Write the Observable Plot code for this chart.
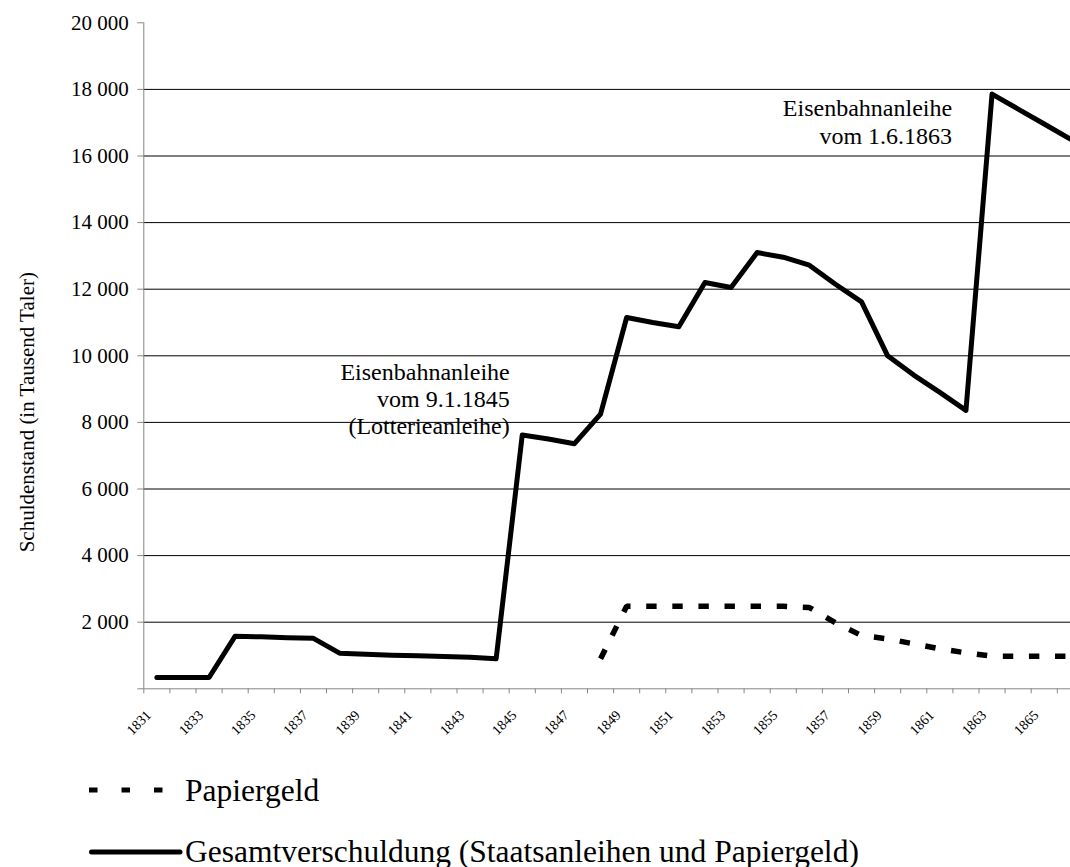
<!DOCTYPE html>
<html>
<head>
<meta charset="utf-8">
<script src="https://cdn.jsdelivr.net/npm/d3@7"></script>
<script src="https://cdn.jsdelivr.net/npm/@observablehq/plot@0.6"></script>
<style>
html, body { margin: 0; padding: 0; background: #fff; overflow: hidden; }
#chart svg { display: block; }
.legend { position: relative; width: 1070px; height: 107px; font-family: "Liberation Serif", serif; font-size: 31.5px; color: #000; }
.legend .sw { position: absolute; left: 86px; width: 100px; height: 10px; line-height: 0; }
.legend .sw svg { display: block; }
.legend .lb { position: absolute; left: 185px; line-height: 31.5px; white-space: nowrap; }
</style>
</head>
<body>
<div id="chart"></div>
<div class="legend" id="legend">
  <div class="sw" style="top:25px"><svg width="100" height="10"><line x1="3" x2="78" y1="5" y2="5" stroke="#000" stroke-width="5" stroke-dasharray="8.5 24"/></svg></div>
  <div class="lb" style="top:15.3px">Papiergeld</div>
  <div class="sw" style="top:87px"><svg width="100" height="10"><line x1="5.5" x2="94" y1="5" y2="5" stroke="#000" stroke-width="5" stroke-linecap="round"/></svg></div>
  <div class="lb" style="top:75.6px">Gesamtverschuldung (Staatsanleihen und Papiergeld)</div>
</div>
<script>
// ---- data ----
const years = [1831, 1832, 1833, 1834, 1835, 1836, 1837, 1838, 1839, 1840, 1841, 1842,
  1843, 1844, 1845, 1846, 1847, 1848, 1849, 1850, 1851, 1852, 1853, 1854,
  1855, 1856, 1857, 1858, 1859, 1860, 1861, 1862, 1863, 1864, 1865, 1866];
const gesamt = [340, 340, 340, 1580, 1560, 1535, 1515, 1070, 1040, 1010, 990, 970,
  945, 900, 7620, 7500, 7360, 8250, 11150, 11000, 10870, 12200, 12050, 13100,
  12960, 12720, 12150, 11620, 10000, 9420, 8900, 8360, 17860, 17410, 16960, 16510];
const papierYears = [1848, 1849, 1850, 1851, 1852, 1853, 1854, 1855, 1856, 1857,
  1858, 1859, 1860, 1861, 1862, 1863, 1864, 1865, 1866];
const papier = [900, 2480, 2480, 2480, 2480, 2480, 2480, 2480, 2440, 1980,
  1600, 1500, 1350, 1200, 1080, 980, 980, 980, 980];
const yTicks = [0, 2000, 4000, 6000, 8000, 10000, 12000, 14000, 16000, 18000, 20000];
const gridTicks = [2000, 4000, 6000, 8000, 10000, 12000, 14000, 16000, 18000];
const labelYears = [1831, 1833, 1835, 1837, 1839, 1841, 1843, 1845, 1847, 1849,
  1851, 1853, 1855, 1857, 1859, 1861, 1863, 1865];
const annotationYears = [1844.52, 1861.47];
const annotationValues = [7640, 16370];
const annotationLabels = ["Eisenbahnanleihe\nvom 9.1.1845\n(Lotterieanleihe)", "Eisenbahnanleihe\nvom 1.6.1863"];
const yTitle = "Schuldenstand (in Tausend Taler)";

// ---- build tables ----
const gesamtData = years.map((y, i) => ({year: y, value: gesamt[i]}));
const papierData = papierYears.map((y, i) => ({year: y, value: papier[i]}));
const annotations = annotationLabels.map((t, i) => ({year: annotationYears[i], value: annotationValues[i], label: t}));
const boundaries = years.map(y => y - 0.5).concat([years[years.length - 1] + 0.5]);

const fmt = d3.formatLocale({decimal: ",", thousands: " ", grouping: [3], currency: ["", ""]}).format(",d");
const grey = "#868686";
const serif = '"Liberation Serif", "Times New Roman", serif';
const bandW = 26.1;
const x0 = 143.3;

const chart = Plot.plot({
  width: 1070,
  height: 760,
  marginLeft: x0,
  marginRight: 0,
  marginTop: 22.3,
  marginBottom: 71.7,
  style: {fontFamily: serif, fontSize: "21px", color: "#000", background: "#fff"},
  x: {type: "linear", domain: [boundaries[0], boundaries[boundaries.length - 1]], range: [x0, x0 + years.length * bandW]},
  y: {type: "linear", domain: [0, 20000], range: [688.3, 22.3]},
  marks: [
    Plot.gridY(gridTicks, {stroke: "#000", strokeOpacity: 1, strokeWidth: 1}),
    Plot.ruleY([0], {stroke: grey}),
    Plot.ruleX([boundaries[0]], {y1: 0, y2: 20000, stroke: grey}),
    Plot.axisY(yTicks, {anchor: "left", tickSize: 6, tickPadding: 9, tickFormat: v => v === 0 ? "" : fmt(v), stroke: grey, fill: "#000", label: null, fontSize: 21, fontFamily: serif}),
    Plot.axisX(boundaries, {anchor: "bottom", tickSize: 5, tickFormat: () => "", stroke: grey, label: null}),
    Plot.axisX(labelYears, {anchor: "bottom", tickSize: 0, tickPadding: 24, tickRotate: -45, dx: -8, tickFormat: d => String(d), fontSize: 14, fontFamily: serif, fill: "#000", label: null}),
    Plot.lineY(papierData, {x: "year", y: "value", stroke: "#000", strokeWidth: 5.5, strokeDasharray: "10.4 15.7", strokeLinecap: "butt", strokeLinejoin: "miter"}),
    Plot.lineY(gesamtData, {x: "year", y: "value", stroke: "#000", strokeWidth: 5, strokeLinejoin: "round", strokeLinecap: "round"}),
    Plot.text(annotations, {x: "year", y: "value", text: "label", textAnchor: "end", lineAnchor: "bottom", lineHeight: 1.14, fontSize: 24, fontFamily: serif, fill: "#000"}),
    Plot.text([yTitle], {frameAnchor: "left", textAnchor: "middle", lineAnchor: "middle", rotate: -90, dx: -117, dy: 56.4, fontSize: 21, fontFamily: serif, fill: "#000"})
  ]
});
document.getElementById("chart").appendChild(chart);
</script>
</body>
</html>
